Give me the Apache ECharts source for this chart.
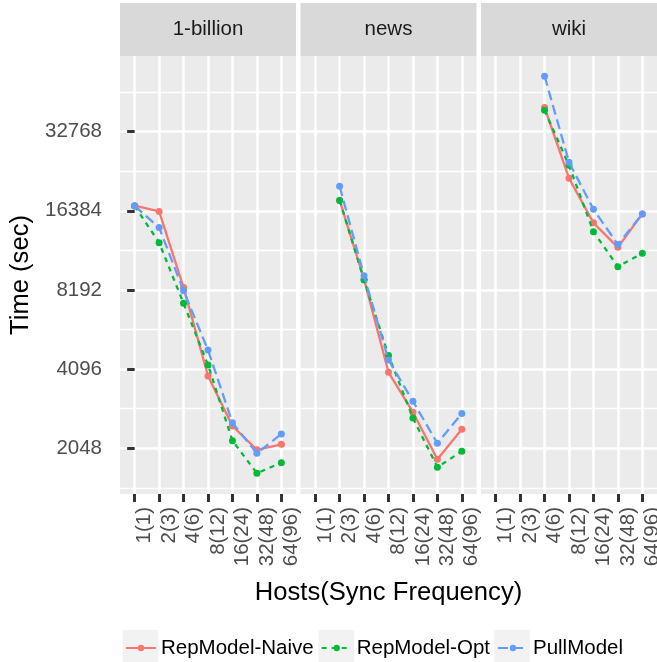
<!DOCTYPE html>
<html><head><meta charset="utf-8">
<script src="https://cdn.jsdelivr.net/npm/echarts@6/dist/echarts.min.js"></script>
<style>html,body{margin:0;padding:0;background:#fff}#c{width:657px;height:662px}</style>
</head><body><div id="c"></div>
<script>
const categories = ['1(1)','2(3)','4(6)','8(12)','16(24)','32(48)','64(96)'];
const facets = ['1-billion','news','wiki'];
const models = ['RepModel-Naive','RepModel-Opt','PullModel'];
const yTicks = [2048, 4096, 8192, 16384, 32768];
const yMinorTicks = [1448, 2896, 5793, 11585, 23170, 46341];

const billionNaive = [17150, 16300, 8380, 3860, 2490, 2020, 2120];
const billionOpt   = [17100, 12400, 7290, 4250, 2190, 1645, 1805];
const billionPull  = [17100, 14150, 8140, 4840, 2560, 1960, 2320];
const newsNaive = [null, 17990, 8990, 3985, 2810, 1860, 2420];
const newsOpt   = [null, 17950, 8950, 4620, 2670, 1735, 1995];
const newsPull  = [null, 20300, 9280, 4440, 3090, 2140, 2780];
const wikiNaive = [null, null, 40500, 21800, 14750, 11900, 15950];
const wikiOpt   = [null, null, 39550, 24400, 13650, 10050, 11300];
const wikiPull  = [null, null, 53300, 25100, 16600, 12200, 15950];

const dataSets = [[billionNaive, billionOpt, billionPull], [newsNaive, newsOpt, newsPull], [wikiNaive, wikiOpt, wikiPull]];
const colors = ['#F8766D', '#00BA38', '#619CFF'];
const dashes = ['solid', [5, 5], [10, 5]];

const FONT = 'Liberation Sans';
const lefts = [120, 300.5, 481];
const PW = 176, PTOP = 56, PH = 438;
const YMIN = 1372.5, YMAX = 63580;
const xIdx = categories.map((c, i) => i);

const grids = [], xAxes = [], yAxes = [], series = [], graphics = [];
facets.forEach((f, i) => {
  grids.push({left: lefts[i], top: PTOP, width: PW, height: PH, show: true, backgroundColor: '#EBEBEB', borderWidth: 0, containLabel: false, outerBoundsMode: 'none'});
  xAxes.push({
    gridIndex: i, type: 'value', min: -0.6, max: 6.6,
    axisLine: {show: false},
    axisTick: {show: true, customValues: xIdx, length: 8, lineStyle: {color: '#333333', width: 3}},
    axisLabel: {show: true, customValues: xIdx, formatter: v => categories[Math.round(v)], rotate: 90, margin: 13,
      fontFamily: FONT, fontSize: 20.5, color: '#4D4D4D', verticalAlign: 'top', lineHeight: 20},
    splitLine: {show: true, lineStyle: {color: '#FFFFFF', width: 2.6}},
    name: i === 1 ? 'Hosts(Sync Frequency)' : '', nameLocation: 'middle', nameGap: 86,
    nameTextStyle: {fontFamily: FONT, fontSize: 25.6, color: '#000000'}
  });
  yAxes.push({
    gridIndex: i, type: 'log', logBase: 2, min: YMIN, max: YMAX,
    axisLine: {show: false},
    axisTick: {show: i === 0, customValues: yTicks, length: 7.5, lineStyle: {color: '#333333', width: 3}},
    axisLabel: {show: i === 0, customValues: yTicks, formatter: v => String(Math.round(v)), margin: 18,
      fontFamily: FONT, fontSize: 20.5, color: '#4D4D4D'},
    splitLine: {show: true, lineStyle: {color: '#FFFFFF', width: 2.6}},
    name: i === 0 ? 'Time (sec)' : '', nameLocation: 'middle', nameGap: 86,
    nameTextStyle: {fontFamily: FONT, fontSize: 25.6, color: '#000000'}
  });
  graphics.push({type: 'rect', shape: {x: lefts[i], y: 3, width: PW, height: PTOP - 3}, style: {fill: '#D9D9D9'}, silent: true});
  graphics.push({type: 'text', x: lefts[i] + PW / 2, y: (PTOP + 3) / 2, style: {text: f, fontFamily: FONT, fontSize: 20.5, fill: '#1A1A1A', align: 'center', verticalAlign: 'middle'}, silent: true});
});
facets.forEach((f, i) => {
  yAxes.push({
    gridIndex: i, type: 'log', logBase: 2, min: YMIN, max: YMAX,
    axisLine: {show: false},
    axisTick: {show: false, customValues: yMinorTicks},
    axisLabel: {show: false, customValues: yMinorTicks},
    splitLine: {show: true, lineStyle: {color: '#FFFFFF', width: 1.3}}
  });
});
facets.forEach((f, i) => {
  models.forEach((m, j) => {
    const vals = dataSets[i][j];
    series.push({
      type: 'line', name: m, xAxisIndex: i, yAxisIndex: i,
      data: vals.map((v, k) => v == null ? null : [k, v]).filter(d => d),
      symbol: 'circle', symbolSize: 7, showSymbol: true,
      lineStyle: {color: colors[j], width: 2.3, type: dashes[j]},
      itemStyle: {color: colors[j]},
      emphasis: {disabled: true}, silent: true, z: 3 + j
    });
  });
});
[122.7, 318.5, 494.3].forEach(x => {
  graphics.push({type: 'rect', shape: {x: x, y: 630, width: 35.6, height: 40}, style: {fill: '#F2F2F2'}, silent: true, z: 0});
});

const chart = echarts.init(document.getElementById('c'), null, {renderer: 'canvas'});
chart.setOption({
  animation: false,
  backgroundColor: '#FFFFFF',
  grid: grids, xAxis: xAxes, yAxis: yAxes, series: series,
  graphic: graphics,
  legend: {data: models, left: 125, top: 636, padding: 0, itemWidth: 30, itemHeight: 8, itemGap: 7,
    textStyle: {fontFamily: FONT, fontSize: 20.5, color: '#000000', lineHeight: 24}, selectedMode: false, z: 10}
});
</script></body></html>
